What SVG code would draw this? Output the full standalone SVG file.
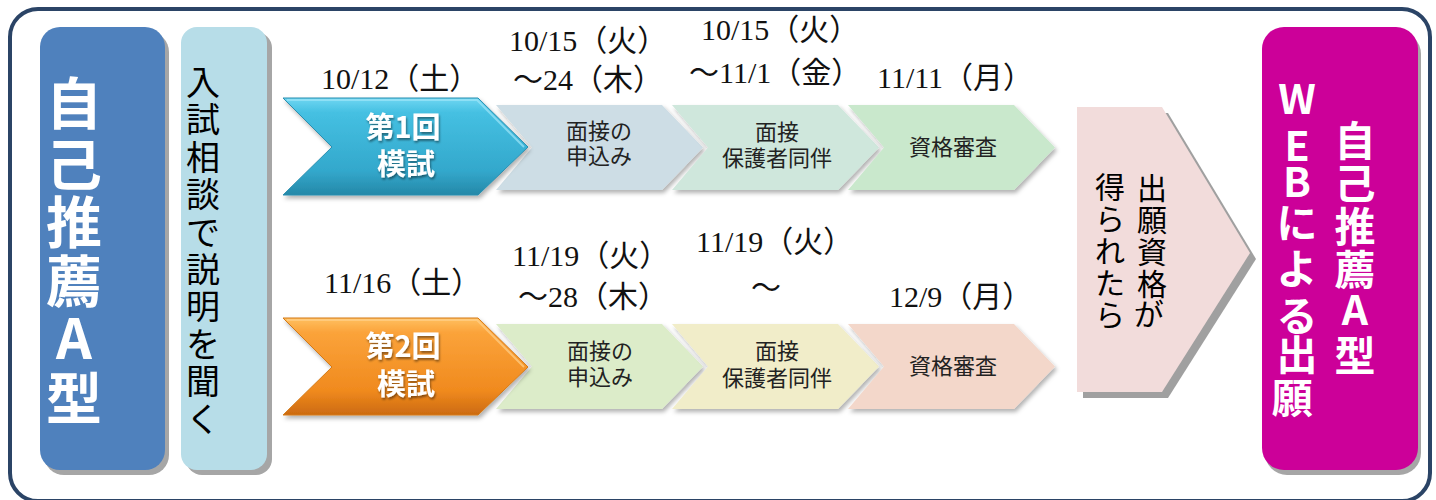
<svg xmlns="http://www.w3.org/2000/svg" width="1436" height="500" viewBox="0 0 1436 500">
<defs>
<style>
.wb{font-family:"Noto Sans CJK JP","Noto Sans",sans-serif;font-weight:bold;fill:#fff;text-anchor:middle}
.vt{font-family:"Noto Sans CJK JP","Noto Sans",sans-serif;fill:#000;text-anchor:middle}
.chv{font-family:"Noto Sans CJK JP","Noto Sans",sans-serif;fill:#222;text-anchor:middle;font-size:22px}
.date{font-family:"Liberation Serif","Noto Sans CJK JP",serif;fill:#111;font-size:30px}
.sh{fill:#a6a6a6}
</style>
<linearGradient id="gBlue" x1="0" y1="0" x2="0" y2="1">
<stop offset="0" stop-color="#6fd6f2"/><stop offset="0.15" stop-color="#45c0e2"/><stop offset="0.75" stop-color="#33a8cc"/><stop offset="1" stop-color="#2588a8"/>
</linearGradient>
<linearGradient id="gOrange" x1="0" y1="0" x2="0" y2="1">
<stop offset="0" stop-color="#ffc060"/><stop offset="0.15" stop-color="#fba33a"/><stop offset="0.75" stop-color="#f08a1e"/><stop offset="1" stop-color="#cc6a10"/>
</linearGradient>
<filter id="ds" x="-10%" y="-20%" width="130%" height="150%">
<feDropShadow dx="2" dy="3" stdDeviation="2" flood-color="#000" flood-opacity="0.3"/>
</filter>
<filter id="ts" x="-10%" y="-20%" width="130%" height="150%">
<feDropShadow dx="1" dy="2" stdDeviation="1.2" flood-color="#000" flood-opacity="0.45"/>
</filter>
</defs>

<rect id="frame" x="10" y="9" width="1420" height="492" rx="28" fill="#fff" stroke="#2b4466" stroke-width="4"/>

<g id="connectors"/>

<g id="title-left">
<rect class="sh" x="44" y="32" width="125" height="443" rx="20"/>
<rect x="40" y="27" width="125" height="443" rx="20" fill="#4f81bd"/>
<text class="wb" font-size="56">
<tspan x="74" y="124">自</tspan><tspan x="74" y="185">己</tspan><tspan x="74" y="243">推</tspan><tspan x="74" y="302">薦</tspan><tspan x="74" y="359">A</tspan><tspan x="74" y="419">型</tspan>
</text>
</g>

<g id="consult">
<rect class="sh" x="186" y="32" width="86" height="443" rx="16"/>
<rect x="181" y="27" width="86" height="443" rx="16" fill="#b7dde8"/>
<text class="vt" font-size="34">
<tspan x="203" y="95">入</tspan><tspan x="203" y="132">試</tspan><tspan x="203" y="170">相</tspan><tspan x="203" y="207">談</tspan><tspan x="203" y="245">で</tspan><tspan x="203" y="282">説</tspan><tspan x="203" y="319">明</tspan><tspan x="203" y="357">を</tspan><tspan x="203" y="394">聞</tspan><tspan x="203" y="432">く</tspan>
</text>
</g>

<g id="dates">
<text class="date" x="321" y="89">10/12（土）</text>
<text class="date" x="509" y="51">10/15（火）</text>
<text class="date" x="513" y="90">～24（木）</text>
<text class="date" x="701" y="40">10/15（火）</text>
<text class="date" x="689" y="83">～11/1（金）</text>
<text class="date" x="877" y="88">11/11（月）</text>
<text class="date" x="324" y="293">11/16（土）</text>
<text class="date" x="512" y="266">11/19（火）</text>
<text class="date" x="518" y="307">～28（木）</text>
<text class="date" x="696" y="252">11/19（火）</text>
<text class="date" x="751" y="298">～</text>
<text class="date" x="889" y="307">12/9（月）</text>
</g>

<g id="step1-apply">
<polygon points="496,105 662,105 703,147.5 662,190 496,190 532,147.5" fill="#cddde5" filter="url(#ds)"/>
<text class="chv"><tspan x="599" y="139">面接の</tspan><tspan x="599" y="164">申込み</tspan></text>
</g>
<g id="step1-interview">
<polygon points="672,105 838,105 879,147.5 838,190 672,190 708,147.5" fill="#cfe7dc" filter="url(#ds)"/>
<text class="chv"><tspan x="777" y="140">面接</tspan><tspan x="777" y="166">保護者同伴</tspan></text>
</g>
<g id="step1-review">
<polygon points="848,105 1014,105 1055,147.5 1014,190 848,190 884,147.5" fill="#c9e8cc" filter="url(#ds)"/>
<text class="chv" x="953" y="155">資格審査</text>
</g>

<g id="step2-apply">
<polygon points="496,324 662,324 703,366.5 662,409 496,409 532,366.5" fill="#dcecc9" filter="url(#ds)"/>
<text class="chv"><tspan x="600" y="359">面接の</tspan><tspan x="600" y="385">申込み</tspan></text>
</g>
<g id="step2-interview">
<polygon points="672,324 838,324 879,366.5 838,409 672,409 708,366.5" fill="#f1edc9" filter="url(#ds)"/>
<text class="chv"><tspan x="777" y="359">面接</tspan><tspan x="777" y="386">保護者同伴</tspan></text>
</g>
<g id="step2-review">
<polygon points="848,324 1014,324 1055,366.5 1014,409 848,409 884,366.5" fill="#f3d7ca" filter="url(#ds)"/>
<text class="chv" x="953" y="374">資格審査</text>
</g>

<g id="mock1">
<polygon points="283,98 478,98 528,147 478,195 283,195 332,147" fill="url(#gBlue)" stroke="#2a8fb0" stroke-width="1" filter="url(#ds)"/>
<polyline points="287,100 477,100 524,147" fill="none" stroke="#9ee6f8" stroke-width="2" opacity="0.7"/>
<g filter="url(#ts)">
<text class="wb" font-size="29" x="403" y="138">第1回</text>
<text class="wb" font-size="29" x="406" y="175">模試</text>
</g>
</g>

<g id="mock2">
<polygon points="283,318 478,318 528,367 478,415 283,415 332,367" fill="url(#gOrange)" stroke="#d47a18" stroke-width="1" filter="url(#ds)"/>
<polyline points="287,320 477,320 524,367" fill="none" stroke="#ffd08a" stroke-width="2" opacity="0.7"/>
<g filter="url(#ts)">
<text class="wb" font-size="29" x="403" y="357">第2回</text>
<text class="wb" font-size="29" x="406" y="395">模試</text>
</g>
</g>

<g id="qualified">
<polygon points="1083,113 1168,113 1256,259 1168,398 1083,398" fill="#a0a0a0"/>
<polygon points="1077,107 1162,107 1250,253 1162,392 1077,392" fill="#f2dcdb"/>
<text class="vt" font-size="30">
<tspan x="1152" y="199">出</tspan><tspan x="1152" y="231">願</tspan><tspan x="1152" y="263">資</tspan><tspan x="1152" y="295">格</tspan><tspan x="1152" y="325">が</tspan>
<tspan x="1110" y="198">得</tspan><tspan x="1110" y="230">ら</tspan><tspan x="1110" y="262">れ</tspan><tspan x="1110" y="294">た</tspan><tspan x="1110" y="326">ら</tspan>
</text>
</g>

<g id="web-apply">
<rect class="sh" x="1265" y="32" width="156" height="443" rx="22"/>
<rect x="1262" y="27" width="156" height="443" rx="22" fill="#cc0099"/>
<text class="wb" font-size="41">
<tspan x="1297" y="114">W</tspan><tspan x="1297" y="161">E</tspan><tspan x="1297" y="197">B</tspan><tspan x="1297" y="238">に</tspan><tspan x="1297" y="284">よ</tspan><tspan x="1297" y="331">る</tspan><tspan x="1297" y="370">出</tspan><tspan x="1297" y="413">願</tspan>
<tspan x="1355" y="156">自</tspan><tspan x="1355" y="199">己</tspan><tspan x="1355" y="242">推</tspan><tspan x="1355" y="285">薦</tspan><tspan x="1355" y="325">A</tspan><tspan x="1355" y="371">型</tspan>
</text>
</g>
</svg>
